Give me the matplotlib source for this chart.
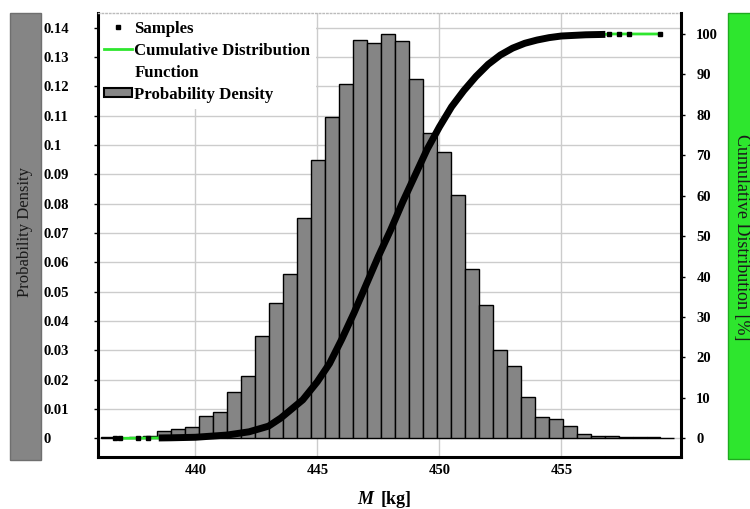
import matplotlib

matplotlib.use("Agg")
import matplotlib.pyplot as plt
import numpy as np
from matplotlib.lines import Line2D
from matplotlib.patches import Patch, Rectangle
from matplotlib.ticker import FuncFormatter, MultipleLocator

plt.rcParams["font.family"] = ["Liberation Serif", "DejaVu Serif"]

# --- histogram: equal bins starting at hist_start ---
hist_start = 436.14
hist_width = 0.573
density = [0.0003, 0.0002, 0.0003, 0.0008, 0.0026, 0.0032, 0.0039, 0.0076, 0.0091, 0.0159,
           0.0213, 0.0350, 0.0460, 0.0560, 0.0750, 0.0948, 0.1095, 0.1208, 0.1359, 0.1347,
           0.1378, 0.1353, 0.1226, 0.1042, 0.0977, 0.0830, 0.0577, 0.0454, 0.0301, 0.0247,
           0.0142, 0.0073, 0.0067, 0.0041, 0.0015, 0.0008, 0.0007, 0.0005, 0.0004, 0.0003, 0.0002]

# --- sample CDF (mass [kg], cumulative %) ---
cdf_mass = [436.71, 436.93, 437.66, 438.05, 438.5, 439.0, 440.0, 441.3, 442.2, 443.0,
            443.5, 444.0, 444.4, 445.0, 445.5, 446.0, 446.5, 447.0, 447.5, 448.0,
            448.5, 449.0, 449.5, 450.0, 450.5, 451.0, 451.5, 452.0, 452.5, 453.0,
            453.5, 454.0, 454.5, 455.0, 456.0, 456.8, 456.97, 457.38, 457.75, 459.02]
cdf_pct = [0.0, 0.0, 0.03, 0.05, 0.08, 0.12, 0.25, 0.8, 1.6, 3.0,
           5.0, 7.5, 9.5, 14.0, 18.5, 24.5, 31.0, 38.0, 45.0, 51.5,
           58.5, 65.0, 71.5, 77.0, 82.0, 86.0, 89.5, 92.5, 94.8, 96.5,
           97.7, 98.5, 99.1, 99.5, 99.8, 99.9, 100.0, 100.0, 100.0, 100.0]
dense_range = (438.15, 456.85)  # samples so packed they merge into a thick line

gray = "#858585"
green = "#2ee62e"

fig = plt.figure(figsize=(7.5, 5.09), dpi=100)
ax = fig.add_axes([0.1303, 0.1028, 0.7777, 0.8723])
ax2 = ax.twinx()

edges = hist_start + hist_width * np.arange(len(density))
ax.bar(edges, density, width=hist_width, align="edge", color=gray,
       edgecolor="black", linewidth=1.0, zorder=2)

m = np.array(cdf_mass)
p = np.array(cdf_pct)
dense = (m >= dense_range[0]) & (m <= dense_range[1])
ax2.plot(m, p, color=green, lw=2.0, zorder=2)
ax2.plot(m[dense], p[dense], color="black", lw=5.0, solid_capstyle="butt", zorder=3)
ax2.plot(m[~dense], p[~dense], "s", color="black", ms=3.5, zorder=4)

ax.set_xlim(436.0, 459.9)
ax.set_ylim(-0.00627, 0.14506)
ax2.set_ylim(-4.55, 105.27)

ax.xaxis.set_major_locator(MultipleLocator(5))
ax.yaxis.set_major_locator(MultipleLocator(0.01))
ax.yaxis.set_major_formatter(FuncFormatter(lambda v, _: f"{round(v, 2):g}"))
ax2.yaxis.set_major_locator(MultipleLocator(10))
ax2.yaxis.set_major_formatter(FuncFormatter(lambda v, _: f"{v:g}"))

ax.set_axisbelow(True)
ax.grid(True, color="#cccccc", lw=1.0)

tick_font = dict(fontsize=10.5, fontweight="bold")
ax.tick_params(axis="y", direction="out", length=3, width=1, pad=36)
ax.tick_params(axis="x", length=0, pad=5)
ax2.tick_params(axis="y", direction="out", length=3, width=1, pad=8)
for lab in ax.get_yticklabels():
    lab.set_ha("left")
    lab.set(**tick_font)
for lab in ax.get_xticklabels() + ax2.get_yticklabels():
    lab.set(**tick_font)

for sp in ("left", "bottom"):
    ax.spines[sp].set_linewidth(2.2)
ax.spines["right"].set_visible(False)
for sp in ("left", "bottom"):
    ax2.spines[sp].set_visible(False)
ax2.spines["right"].set_linewidth(2.2)
ax.spines["top"].set(color="#bbbbbb", linestyle=":", linewidth=1.0)
ax2.spines["top"].set_visible(False)

# legend sits in the lower axes, above grid and bars but under the spines
handles = [
    Line2D([], [], marker="s", color="black", ls="none", ms=3.5),
    Line2D([], [], color=green, lw=2.0),
    Line2D([], [], ls="none"),
    Patch(facecolor=gray, edgecolor="black", linewidth=1.5),
]
labels = ["Samples", "Cumulative Distribution", "Function", "Probability Density"]
leg = ax.legend(handles, labels, loc="upper left", bbox_to_anchor=(0.0, 0.996),
                prop=dict(size=12.1, weight="bold"), frameon=True, fancybox=False,
                framealpha=1.0, facecolor="white", edgecolor="none",
                handlelength=1.7, handleheight=0.45, handletextpad=0.12,
                labelspacing=0.36, borderpad=0.36, borderaxespad=0.0)
leg.set_zorder(2.4)

# boxed axis titles
fig.add_artist(Rectangle((0.0133, 0.0963), 0.0409, 0.8776, transform=fig.transFigure,
                         facecolor=gray, edgecolor="#6f6f6f", lw=1.0))
fig.text(25.3 / 750, 1 - 232 / 509, "Probability Density", rotation=90,
         ha="center", va="center", fontsize=12, color="#1a1a1a")
fig.add_artist(Rectangle((0.9707, 0.0982), 0.05, 0.8762, transform=fig.transFigure,
                         facecolor=green, edgecolor="#1faa1f", lw=1.0))
fig.text(741.5 / 750, 1 - 237 / 509, "Cumulative Distribution [%]", rotation=-90,
         ha="center", va="center", fontsize=13, color="#1a1a1a")

fig.text(373 / 750, 1 - 499 / 509, "M", ha="right", va="center", fontsize=13,
         fontweight="bold", fontstyle="italic")
fig.text(381 / 750, 1 - 499 / 509, "[kg]", ha="left", va="center", fontsize=13,
         fontweight="bold")

fig.savefig("out.png", dpi=100)
